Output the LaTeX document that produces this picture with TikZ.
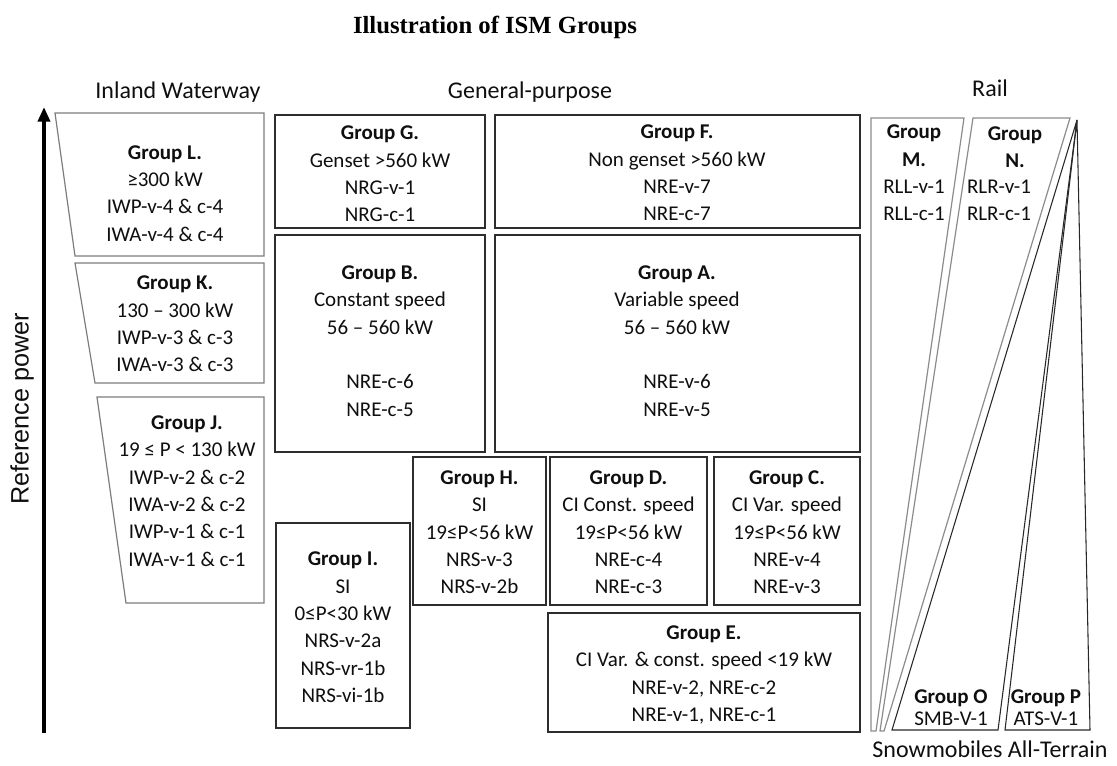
\documentclass[tikz,border=0pt]{standalone}
\usepackage{fontspec}
\setmainfont{Carlito}
\newfontfamily\arialfont{Liberation Sans}
\newfontfamily\titlefont{Liberation Serif}
\usetikzlibrary{arrows.meta}
\definecolor{boxc}{RGB}{45,45,45}
\definecolor{trapc}{RGB}{125,125,125}
\definecolor{railc}{RGB}{140,140,140}
\definecolor{raild}{RGB}{40,40,40}
\definecolor{txtc}{RGB}{15,15,15}
\begin{document}
\begin{tikzpicture}[x=0.75pt,y=-0.75pt,
  body/.style={font=\fontsize{15.75}{20.5}\selectfont, align=center, inner sep=0pt, text=txtc},
  tight/.style={font=\fontsize{15.75}{16.5}\selectfont, align=center, inner sep=0pt, text=txtc},
  label/.style={font=\fontsize{18}{22}\selectfont, inner sep=0pt, text=txtc},
  boxline/.style={draw=boxc, line width=1.5pt},
  trapline/.style={draw=trapc, line width=0.9pt},
  railline/.style={draw=railc, line width=0.9pt},
  raildark/.style={draw=raild, line width=0.8pt}
]
\useasboundingbox[fill=white] (0,0) rectangle (1117,765);

% title and headings
\node[font=\titlefont\bfseries\fontsize{18.5}{22}\selectfont, inner sep=0pt] (title) at (495,27) {Illustration of ISM Groups};
\node[label] (iw) at (178,92) {Inland Waterway};
\node[label] (gp) at (530,92) {General-purpose};
\node[label] (rail) at (990,88) {Rail};
\node[label] (snow) at (990,749) {Snowmobiles All-Terrain};

% reference power axis
\node[rotate=90, font=\arialfont\fontsize{18.9}{22}\selectfont, inner sep=0pt, text=txtc] (rp) at (22,409) {Reference power};
\coordinate (abot) at (44,733);
\coordinate (atop) at (44,107);
\draw[line width=3pt, -{Triangle[width=9pt,length=11pt]}] (abot) -- (atop);

% inland waterway trapezoids
\draw[trapline] (55,113) -- (264,113) -- (264,256) -- (75,256) -- cycle;
\draw[trapline] (75,263) -- (264,263) -- (264,383) -- (95,383) -- cycle;
\draw[trapline] (97,397) -- (264,397) -- (264,603) -- (126,603) -- cycle;
\node[body] (L) at (165,193.5) {\textbf{Group L.}\\≥300 kW\\IWP-v-4 \& c-4\\IWA-v-4 \& c-4};
\node[body] (K) at (175,324) {\textbf{Group K.}\\130 – 300 kW\\IWP-v-3 \& c-3\\IWA-v-3 \& c-3};
\node[body] (J) at (187,491) {\textbf{Group J.}\\19 ≤ P < 130 kW\\IWP-v-2 \& c-2\\IWA-v-2 \& c-2\\IWP-v-1 \& c-1\\IWA-v-1 \& c-1};

% general-purpose boxes
\draw[boxline] (275,115) rectangle (485,228);
\node[body] (G) at (380,174) {\textbf{Group G.}\\Genset >560 kW\\NRG-v-1\\NRG-c-1};
\draw[boxline] (495,115) rectangle (860,228);
\node[body] (F) at (677,173) {\textbf{Group F.}\\Non genset >560 kW\\NRE-v-7\\NRE-c-7};
\draw[boxline] (275,235) rectangle (485,452);
\node[body] (B) at (380,341) {\textbf{Group B.}\\Constant speed\\56 – 560 kW\\\mbox{}\\NRE-c-6\\NRE-c-5};
\draw[boxline] (495,235) rectangle (860,452);
\node[body] (A) at (677,341) {\textbf{Group A.}\\Variable speed\\56 – 560 kW\\\mbox{}\\NRE-v-6\\NRE-v-5};
\draw[boxline] (413,457) rectangle (546,605);
\node[body] (H) at (479.5,532.5) {\textbf{Group H.}\\SI\\19≤P<56 kW\\NRS-v-3\\NRS-v-2b};
\draw[boxline] (550,457) rectangle (707,605);
\node[body] (D) at (628.5,532.5) {\textbf{Group D.}\\CI Const. speed\\19≤P<56 kW\\NRE-c-4\\NRE-c-3};
\draw[boxline] (714,457) rectangle (860,605);
\node[body] (C) at (787,532.5) {\textbf{Group C.}\\CI Var. speed\\19≤P<56 kW\\NRE-v-4\\NRE-v-3};
\draw[boxline] (548,613) rectangle (860,732);
\node[body] (E) at (704,675) {\textbf{Group E.}\\CI Var. \& const. speed <19 kW\\NRE-v-2, NRE-c-2\\NRE-v-1, NRE-c-1};
\draw[boxline] (276,523) rectangle (410,728);
\node[body] (I) at (343,627.5) {\textbf{Group I.}\\SI\\0≤P<30 kW\\NRS-v-2a\\NRS-vr-1b\\NRS-vi-1b};

% rail, snowmobiles, all-terrain
\draw[railline] (871,118) -- (964,118) -- (876,731) -- (871,731) -- cycle;
\draw[railline] (973,118) -- (1070,118) -- (884,731) -- (880,731) -- cycle;
\draw[raildark] (1077,120) -- (892,730) -- (998,730) -- cycle;
\draw[raildark] (1077,120) -- (1005,730) -- (1090,730) -- cycle;
\node[body] (M) at (914,173) {\textbf{Group}\\\textbf{M.}\\RLL-v-1\\RLL-c-1};
\node[body] (Nt) at (1015,147) {\textbf{Group}\\\textbf{N.}};
\node[body] (Nb) at (999,200) {RLR-v-1\\RLR-c-1};
\node[tight] (O) at (951,708) {\textbf{Group O}\\SMB-V-1};
\node[tight] (P) at (1046,708) {\textbf{Group P}\\ATS-V-1};
\end{tikzpicture}
\end{document}
